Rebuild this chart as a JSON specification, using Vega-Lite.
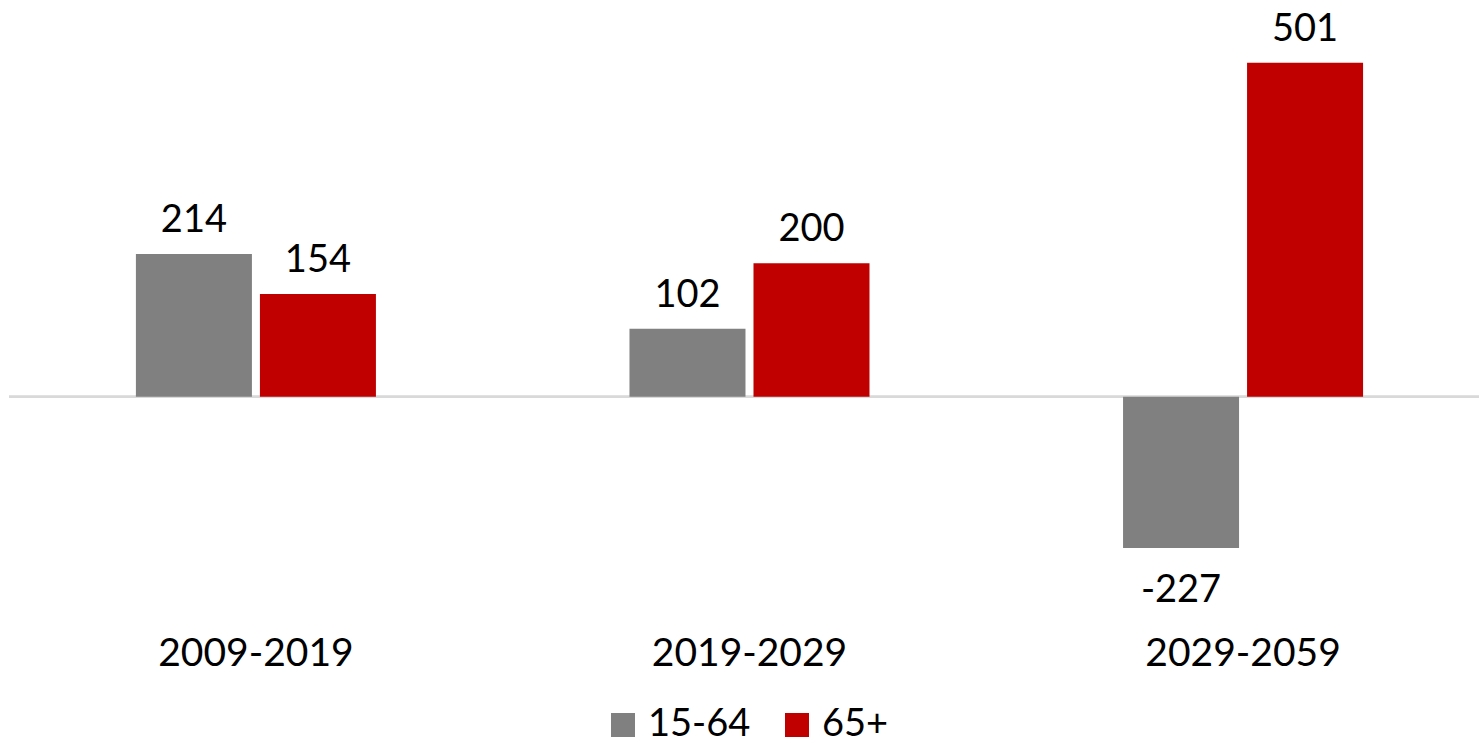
{
  "$schema": "https://vega.github.io/schema/vega-lite/v6.json",
  "width": 1470,
  "height": 630,
  "autosize": {"type": "none"},
  "padding": {"left": 9, "top": 0, "right": 0, "bottom": 113},
  "config": {"view": {"stroke": null}, "font": "Lato"},
  "data": {
    "values": [
      {"period": "2009-2019", "group": "15-64", "value": 214, "label": "214"},
      {"period": "2009-2019", "group": "65+", "value": 154, "label": "154"},
      {"period": "2019-2029", "group": "15-64", "value": 102, "label": "102"},
      {"period": "2019-2029", "group": "65+", "value": 200, "label": "200"},
      {"period": "2029-2059", "group": "15-64", "value": -227, "label": "-227"},
      {"period": "2029-2059", "group": "65+", "value": 501, "label": "501"}
    ]
  },
  "layer": [
    {
      "mark": {"type": "rule", "color": "#D9D9D9", "strokeWidth": 2},
      "encoding": {"y": {"datum": 0, "type": "quantitative", "scale": {"domain": [-350, 595], "nice": false, "zero": false}, "axis": null}}
    },
    {
      "mark": {"type": "bar"},
      "encoding": {
        "x": {"field": "period", "type": "nominal", "sort": null, "scale": {"paddingInner": 0.5137, "paddingOuter": 0.246, "align": 0.5226},
          "axis": {"title": null, "orient": "bottom", "ticks": false, "domain": false, "labelAngle": 0, "labelFontSize": 39, "labelFont": "Lato", "labelColor": "#000000", "labelPadding": 4, "labelLimit": 500}},
        "xOffset": {"field": "group", "type": "nominal", "scale": {"paddingInner": 0.0645, "paddingOuter": 0}},
        "y": {"field": "value", "type": "quantitative", "scale": {"domain": [-350, 595], "nice": false, "zero": false}, "axis": null},
        "color": {"field": "group", "type": "nominal",
          "scale": {"domain": ["15-64", "65+"], "range": ["#808080", "#C00000"]},
          "legend": {"title": null, "orient": "none", "direction": "horizontal", "legendX": 595, "legendY": 706, "padding": 0,
            "symbolType": "square", "symbolSize": 576, "symbolStrokeWidth": 0, "symbolOpacity": 1,
            "labelFontSize": 38, "labelFont": "Lato", "labelColor": "#000000", "labelOffset": 6, "columnPadding": 27}}
      }
    },
    {
      "transform": [{"filter": "datum.value >= 0"}],
      "mark": {"type": "text", "baseline": "alphabetic", "dy": -22, "fontSize": 38, "font": "Lato", "color": "#000000"},
      "encoding": {
        "x": {"field": "period", "type": "nominal", "sort": null},
        "xOffset": {"field": "group", "type": "nominal"},
        "y": {"field": "value", "type": "quantitative"},
        "text": {"field": "label", "type": "nominal"}
      }
    },
    {
      "transform": [{"filter": "datum.value < 0"}],
      "mark": {"type": "text", "baseline": "alphabetic", "dy": 54, "fontSize": 38, "font": "Lato", "color": "#000000"},
      "encoding": {
        "x": {"field": "period", "type": "nominal", "sort": null},
        "xOffset": {"field": "group", "type": "nominal"},
        "y": {"field": "value", "type": "quantitative"},
        "text": {"field": "label", "type": "nominal"}
      }
    }
  ]
}
